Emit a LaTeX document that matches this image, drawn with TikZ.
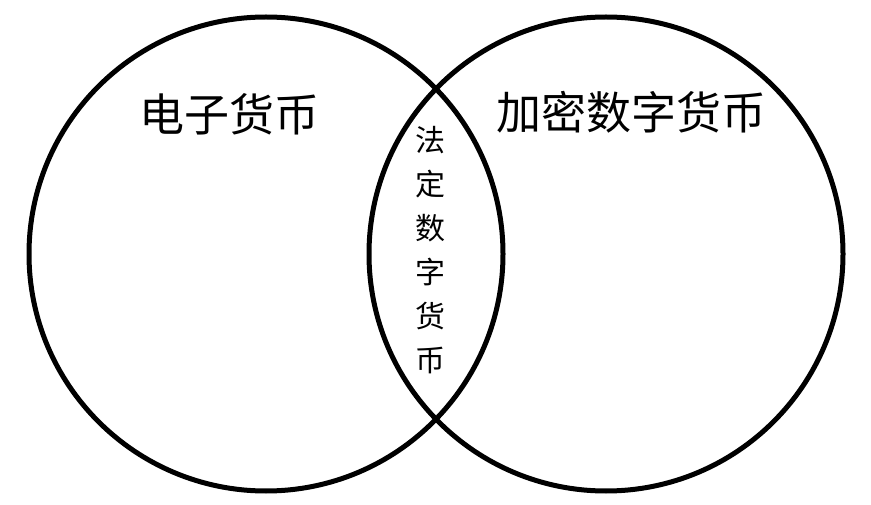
\documentclass[tikz,border=0pt]{standalone}
\usepackage{fontspec}
\newfontfamily\cjk{Noto Sans CJK SC}
\usetikzlibrary{positioning}

\begin{document}
\begin{tikzpicture}[x=1pt, y=-1pt,
        set/.style={circle, draw, line width=5pt, minimum size=474pt, inner sep=0},
        label/.style={font=\cjk\fontsize{45}{45}\selectfont, inner sep=0}]
        \useasboundingbox (0,0) rectangle (871,505);
        \node[set] (emoney) at (266,254) {};
        \node[set] (crypto) at (606,254) {};
        \node[label] (emoneytext) at (229,114) {电子货币};
        \node[label] (cryptotext) at (631,112) {加密数字货币};
        \node[font=\cjk\fontsize{30}{44}\selectfont, align=center, inner sep=0] (cbdc) at (430,250) {法\\定\\数\\字\\货\\币};
\end{tikzpicture}
\end{document}
